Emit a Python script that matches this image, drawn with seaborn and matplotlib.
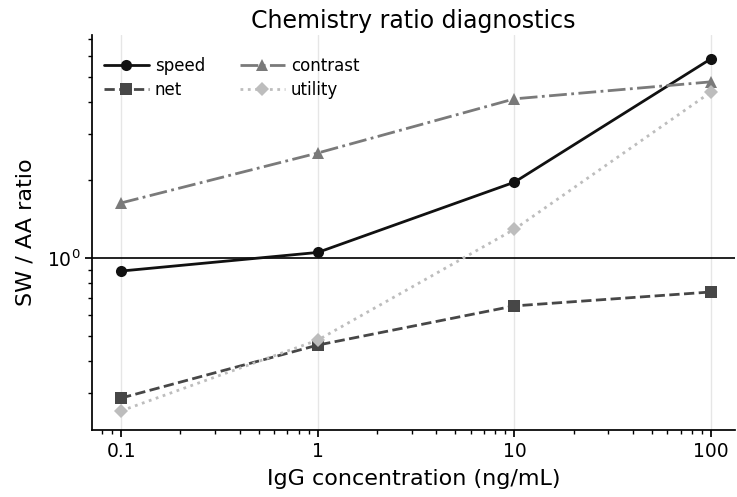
import numpy as np
import pandas as pd
import matplotlib
matplotlib.use("Agg")
import matplotlib.pyplot as plt
import matplotlib.ticker as mticker
import seaborn as sns

concentration = [0.1, 1, 10, 100]
speed = [0.89, 1.05, 1.96, 5.87]
net = [0.288, 0.461, 0.653, 0.739]
contrast = [1.63, 2.54, 4.11, 4.78]
utility = [0.257, 0.482, 1.29, 4.37]
x_tick_labels = ["0.1", "1", "10", "100"]

series = {"speed": speed, "net": net, "contrast": contrast, "utility": utility}
styles = {
    "speed": dict(color="#111111", ls="-", marker="o"),
    "net": dict(color="#474747", ls="--", marker="s"),
    "contrast": dict(color="#7a7a7a", ls="-.", marker="^"),
    "utility": dict(color="#bdbdbd", ls=":", marker="D"),
}

sns.set_theme(style="ticks")
plt.rcParams['font.family'] = ['DejaVu Sans']
for k in ["text.color", "axes.labelcolor", "xtick.color", "ytick.color", "axes.edgecolor"]:
    plt.rcParams[k] = "black"

fig = plt.figure(figsize=(7.37, 4.97), dpi=100)
ax = fig.add_axes([0.125, 0.135, 0.872, 0.795])

for name, vals in series.items():
    df = pd.DataFrame({"x": concentration, "y": vals})
    st = styles[name]
    ms = 8 if st["marker"] != "D" else 7.5
    sns.lineplot(data=df, x="x", y="y", ax=ax, color=st["color"], linestyle=st["ls"],
                 marker=st["marker"], markersize=ms, markeredgewidth=0, linewidth=2,
                 label=name)

ax.set_xscale("log")
ax.set_yscale("log")
ax.set_xlim(0.0712, 132)
ax.set_ylim(0.217, 7.26)
ax.axhline(1.0, color="#111111", linewidth=1.3, zorder=1)

ax.set_xticks(concentration)
ax.set_xticklabels(x_tick_labels)
ax.yaxis.set_minor_formatter(mticker.NullFormatter())
ax.grid(True, axis="x", which="major", color="#e6e6e6", linewidth=1)
ax.tick_params(axis="both", which="major", labelsize=13.5, direction="out", length=5)
ax.tick_params(axis="both", which="minor", direction="out", length=3)

ax.set_xlabel("IgG concentration (ng/mL)", fontsize=16, labelpad=6)
ax.set_ylabel("SW / AA ratio", fontsize=16, labelpad=8)
ax.set_title("Chemistry ratio diagnostics", fontsize=17, pad=5)
sns.despine(ax=ax)

ax.legend(ncol=2, frameon=False, loc="upper left", bbox_to_anchor=(-0.005, 0.982),
          fontsize=12, handlelength=2.7, handletextpad=0.35,
          columnspacing=2.1, labelspacing=0.35)

fig.savefig("out.png", dpi=100)
